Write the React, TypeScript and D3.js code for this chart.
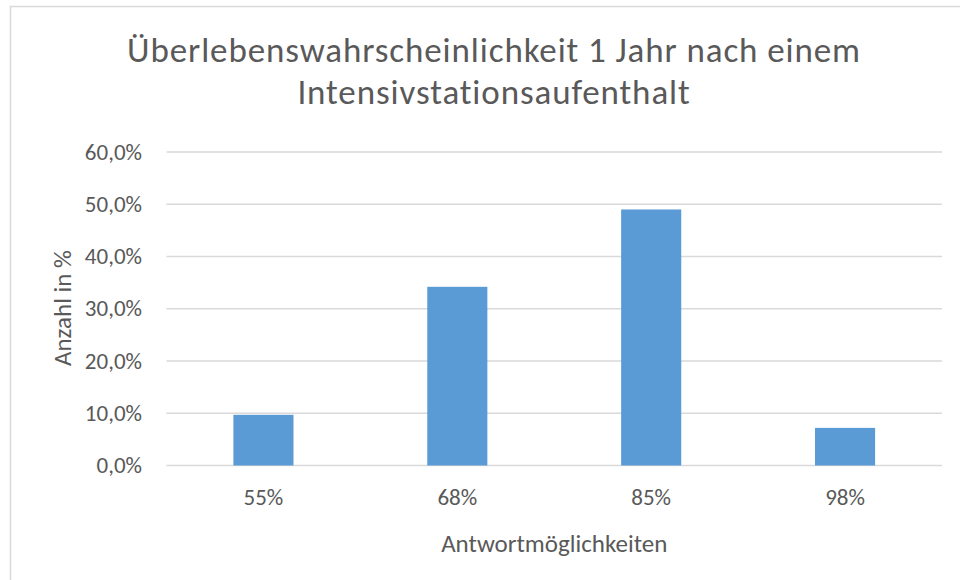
import React from "react";
import * as d3 from "d3";

const categories = ["55%", "68%", "85%", "98%"];
const values = [0.097, 0.342, 0.49, 0.072];
const yTicks = [0, 0.1, 0.2, 0.3, 0.4, 0.5, 0.6];
const titleLines = [
  "Überlebenswahrscheinlichkeit 1 Jahr nach einem",
  "Intensivstationsaufenthalt",
];
const xTitle = "Antwortmöglichkeiten";
const yTitle = "Anzahl in %";

const width = 960;
const height = 580;
const margin = { top: 152, right: 18, bottom: 114.5, left: 166.5 };
const font = "Carlito, Calibri, Lato, sans-serif";
const textColor = "#595959";

const de = d3.formatLocale({
  decimal: ",",
  thousands: ".",
  grouping: [3],
  currency: ["", " €"],
});
const fmt = de.format(".1%");

export default function App() {
  const x = d3
    .scaleBand()
    .domain(categories)
    .range([margin.left, width - margin.right])
    .paddingInner(0.69)
    .paddingOuter(0.345);

  const y = d3
    .scaleLinear()
    .domain([0, 0.6])
    .range([height - margin.bottom, margin.top]);

  const plotMid = (margin.left + width - margin.right) / 2;

  return (
    <svg
      width={width}
      height={height}
      style={{ position: "absolute", left: 0, top: 0, background: "white" }}
      fontFamily={font}
    >
      <rect x={0} y={0} width={width} height={height} fill="white" />
      {/* Rahmen des Diagramms */}
      <rect
        x={10.5}
        y={6.5}
        width={1200}
        height={1200}
        fill="none"
        stroke="#d9d9d9"
        strokeWidth={1.5}
      />

      {titleLines.map((t, i) => (
        <text
          key={i}
          x={494}
          y={62 + i * 42}
          textAnchor="middle"
          fontSize={35}
          fontWeight={300}
          letterSpacing={0.9}
          fill={textColor}
        >
          {t}
        </text>
      ))}

      {yTicks.map((t) => (
        <g key={t}>
          <line
            x1={margin.left}
            x2={width - margin.right}
            y1={y(t)}
            y2={y(t)}
            stroke="#d9d9d9"
            strokeWidth={1.5}
          />
          <text
            x={142}
            y={y(t)}
            dy="0.33em"
            textAnchor="end"
            fontSize={23}
            fill={textColor}
          >
            {fmt(t)}
          </text>
        </g>
      ))}

      {categories.map((c, i) => (
        <rect
          key={c}
          x={x(c)}
          y={y(values[i])}
          width={x.bandwidth()}
          height={y(0) - y(values[i])}
          fill="#5b9bd5"
        />
      ))}

      {categories.map((c) => (
        <text
          key={c}
          x={(x(c) ?? 0) + x.bandwidth() / 2}
          y={505}
          textAnchor="middle"
          fontSize={23}
          fill={textColor}
        >
          {c}
        </text>
      ))}

      <text
        x={plotMid}
        y={552}
        textAnchor="middle"
        fontSize={25}
        fill={textColor}
      >
        {xTitle}
      </text>

      <text
        transform={`translate(71,308) rotate(-90)`}
        textAnchor="middle"
        fontSize={25}
        fill={textColor}
      >
        {yTitle}
      </text>
    </svg>
  );
}
